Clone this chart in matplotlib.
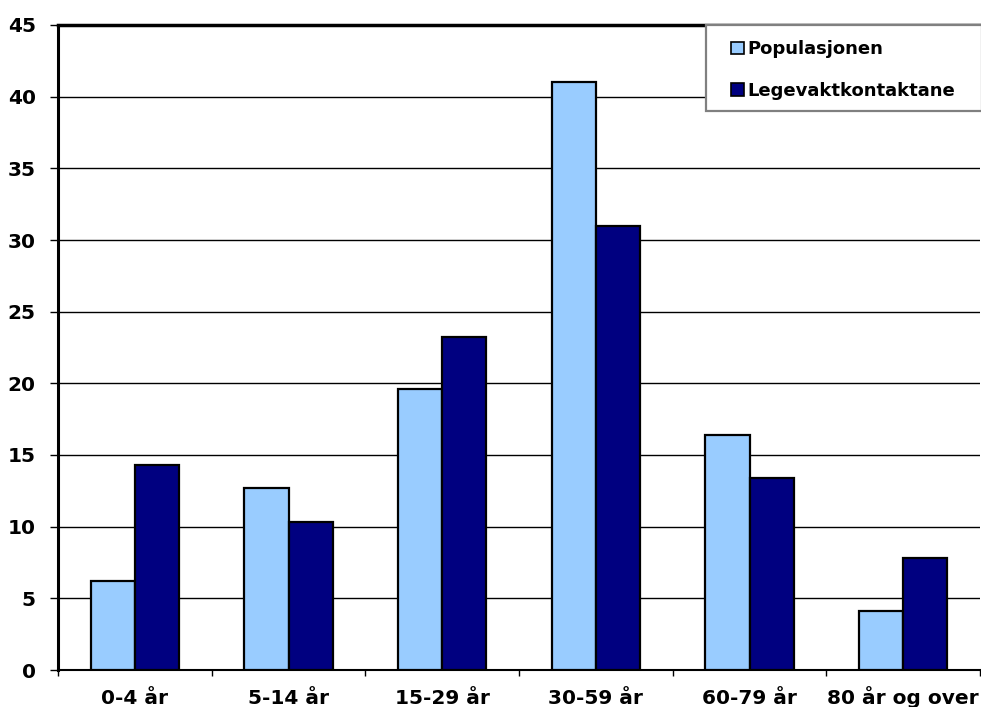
import matplotlib
matplotlib.use("Agg")
import matplotlib.pyplot as plt
from matplotlib.patches import Rectangle
import numpy as np

categories = ["0-4 år", "5-14 år", "15-29 år", "30-59 år", "60-79 år", "80 år og over"]
populasjonen = [6.2, 12.7, 19.6, 41.0, 16.4, 4.1]
legevakt = [14.3, 10.3, 23.2, 31.0, 13.4, 7.8]
series_names = ["Populasjonen", "Legevaktkontaktane"]
yticks = [0, 5, 10, 15, 20, 25, 30, 35, 40, 45]

plt.rcParams["font.family"] = ["DejaVu Sans"]
plt.rcParams["font.weight"] = "bold"

W, H = 981, 707
fig = plt.figure(figsize=(W / 100, H / 100), dpi=100)
ax = fig.add_axes([58 / W, 1 - 670 / H, 922 / W, 645 / H])

x = np.arange(len(categories))
w = 0.287
ax.bar(x - w / 2, populasjonen, w, color="#99ccff", edgecolor="black", linewidth=1.6,
       label=series_names[0], zorder=3)
ax.bar(x + w / 2, legevakt, w, color="#000080", edgecolor="black", linewidth=1.6,
       label=series_names[1], zorder=3)

ax.set_xlim(-0.5, len(categories) - 0.5)
ax.set_ylim(0, 45)
ax.set_yticks(yticks)
ax.set_yticklabels([str(t) for t in yticks], fontsize=14.5, fontweight="bold")
ax.yaxis.grid(True, color="black", linewidth=1.0, zorder=0)
ax.set_axisbelow(True)

# group boundaries carry the tick marks, category names sit between them
ax.set_xticks(np.arange(len(categories) + 1) - 0.5)
ax.set_xticklabels([])
ax.set_xticks(x, minor=True)
ax.set_xticklabels(categories, minor=True, fontsize=14.5, fontweight="bold")
for lbl in ax.get_xticklabels(minor=True):
    lbl.set_verticalalignment("baseline")
ax.tick_params(axis="x", which="major", length=4.5, width=1, color="black")
ax.tick_params(axis="x", which="minor", length=0, pad=24.8)
ax.tick_params(axis="y", length=5.5, width=1, color="black", pad=10.5)

for side in ["left", "top", "bottom"]:
    ax.spines[side].set_color("black")
ax.spines["left"].set_linewidth(2.2)
ax.spines["top"].set_linewidth(2.5)
ax.spines["bottom"].set_linewidth(1.5)
ax.spines["right"].set_visible(False)

# legend box in the upper right corner
lx0, ly0, lx1, ly1 = 706, 25, 982, 111
fig.patches.append(Rectangle((lx0 / W, 1 - ly1 / H), (lx1 - lx0) / W, (ly1 - ly0) / H,
                             transform=fig.transFigure, facecolor="white",
                             edgecolor="#808080", linewidth=1.6, zorder=5))
leg = fig.legend(*ax.get_legend_handles_labels(), loc="center left",
                 bbox_to_anchor=(731 / W, 1 - (ly0 + ly1 + 4) / 2 / H),
                 prop={"weight": "bold", "size": 13.0}, frameon=False,
                 handlelength=0.7, handleheight=0.7, handletextpad=0.2,
                 borderpad=0.0, labelspacing=1.3, borderaxespad=0.0)
leg.set_zorder(6)
for h in leg.legend_handles:
    h.set_linewidth(1.2)

fig.savefig("out.png", dpi=100, facecolor="white")
